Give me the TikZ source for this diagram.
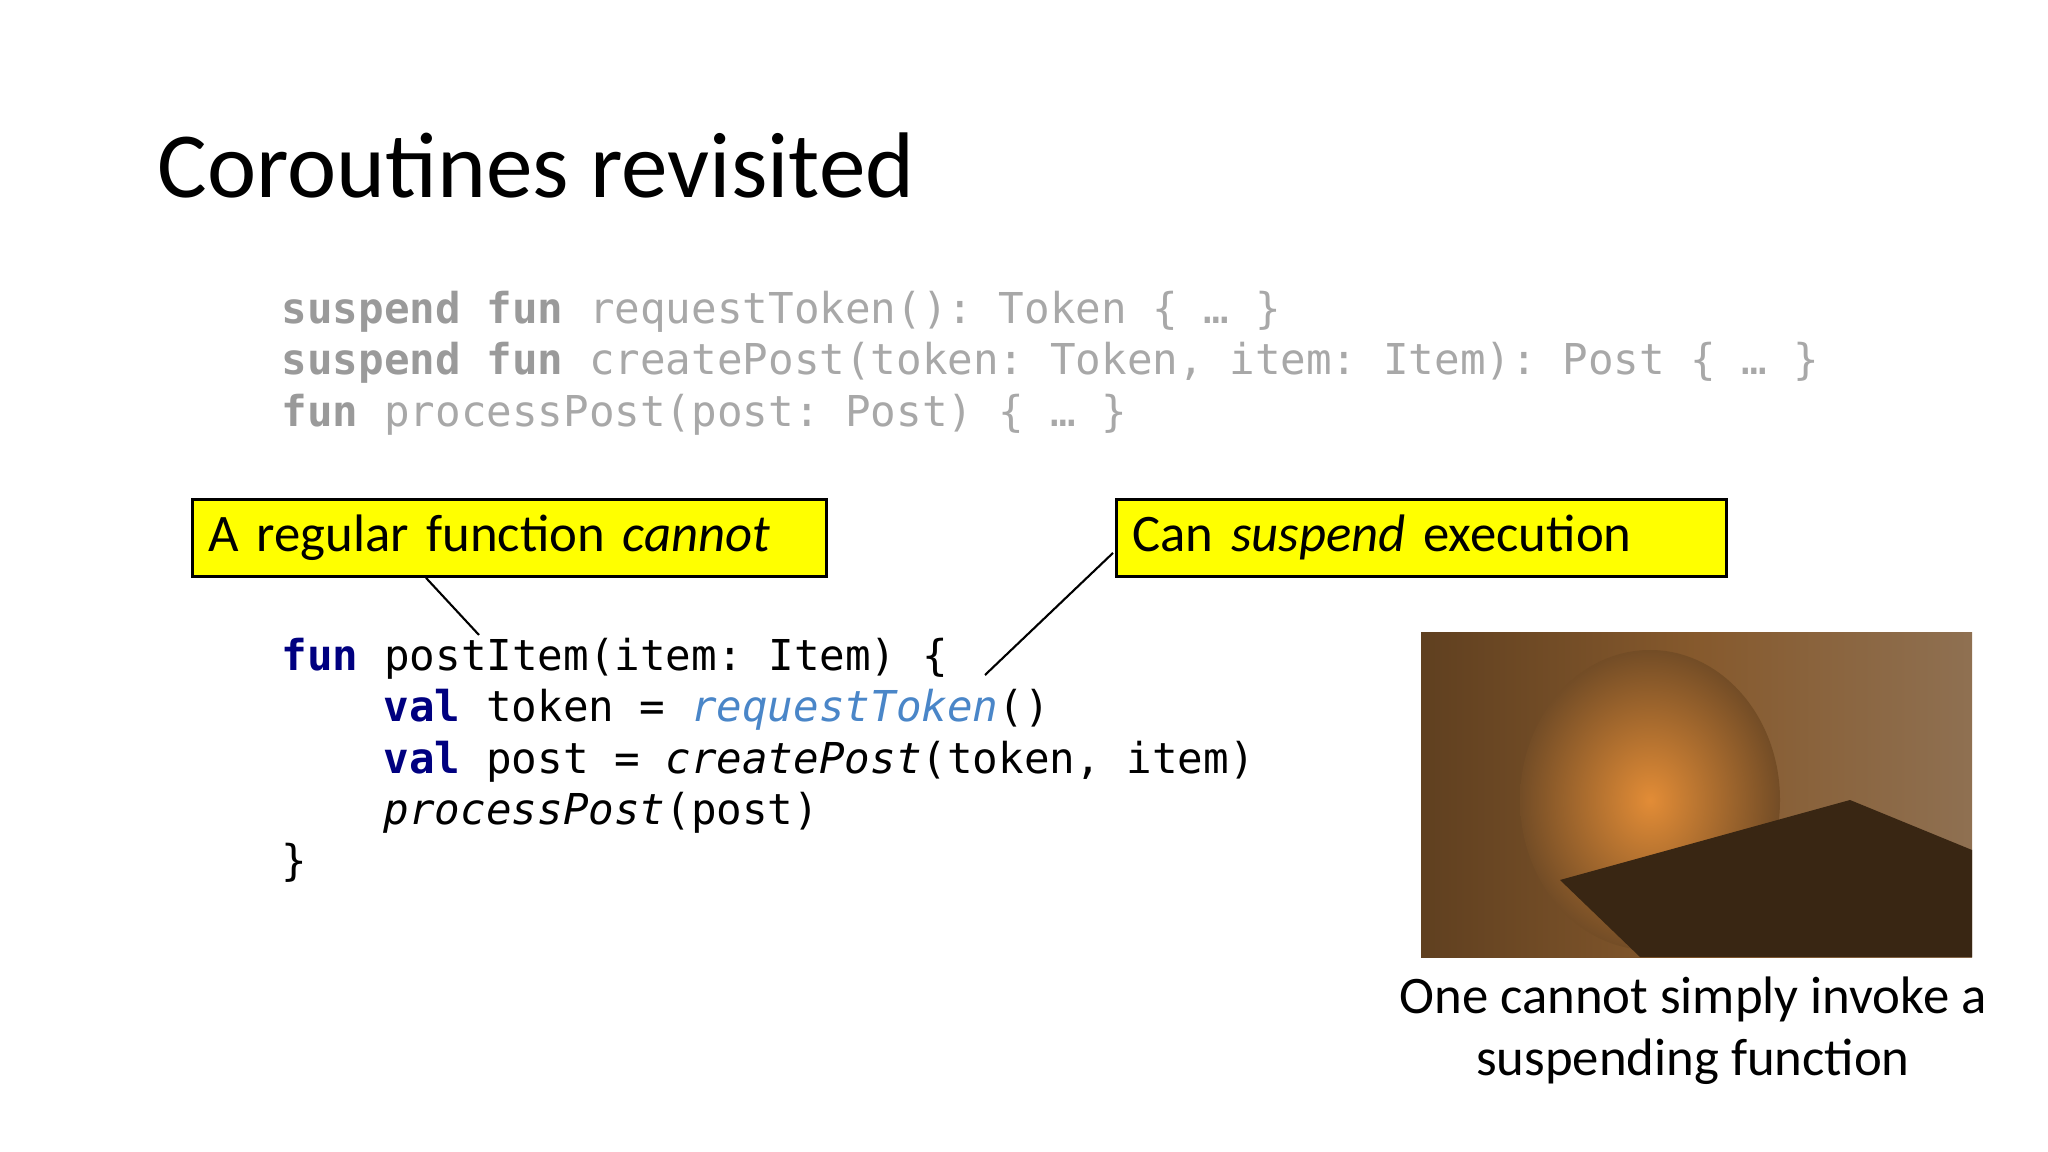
\documentclass[tikz,border=0pt]{standalone}
\usepackage{fontspec}
\setmainfont{Carlito}
\setmonofont{DejaVu Sans Mono}
\definecolor{kw}{HTML}{000080}
\definecolor{fn}{HTML}{4A86C8}
\definecolor{gr}{HTML}{A8A8A8}
\definecolor{gk}{HTML}{9A9A9A}
\definecolor{ylw}{HTML}{FFFF00}
\begin{document}
\begin{tikzpicture}[x=0.01cm,y=-0.01cm,
  code/.style={anchor=base west,inner sep=0pt,font=\fontsize{12.1}{14}\selectfont\ttfamily},
  note/.style={draw=black,fill=ylw,line width=0.8pt,minimum width=#1,minimum height=0.77cm,anchor=north west,inner sep=0pt,font=\fontsize{15}{18}\selectfont,text width=#1-0.32cm, align=left},
  conn/.style={draw=black,line width=0.6pt}]
\useasboundingbox (0,0) rectangle (2048,1152);
\node[anchor=base west,inner sep=0pt,font=\fontsize{26.5}{32}\selectfont] (title) at (157,198) {Coroutines revisited};
\node[code,text=gr] (g1) at (281,324) {\textcolor{gk}{\bfseries suspend fun} requestToken(): Token \{ … \}};
\node[code,text=gr] (g2) at (281,375) {\textcolor{gk}{\bfseries suspend fun} createPost(token: Token, item: Item): Post \{ … \}};
\node[code,text=gr] (g3) at (281,427) {\textcolor{gk}{\bfseries fun} processPost(post: Post) \{ … \}};
\node[code] (c1) at (281,670) {\textcolor{kw}{\bfseries fun} postItem(item: Item) \{};
\node[code] (c2) at (383,721) {\textcolor{kw}{\bfseries val} token = \textcolor{fn}{\itshape requestToken}()};
\node[code] (c3) at (383,773) {\textcolor{kw}{\bfseries val} post = {\itshape createPost}(token, item)};
\node[code] (c4) at (383,824) {{\itshape processPost}(post)};
\node[code] (c5) at (281,875) {\}};
\node[note=6.34cm] (b1) at (191,498) {A regular function \textit{cannot}};
\node[note=6.10cm] (b2) at (1115,498) {Can \textit{suspend} execution};
\coordinate (e1) at (479,635);
\coordinate (e2) at (985,675);
\draw[conn] (b1.south west)++(235,0) coordinate (s1) -- (e1);
\draw[conn] (b2.west)++(-2,15) coordinate (s2) -- (e2);
\begin{scope}
\clip (1421,632) rectangle (1972,957);
\shade[left color=brown!50!black, right color=brown!60!black!80, middle color=brown!70!black] (1421,632) rectangle (1972,957);
\shade[inner color=orange!50!brown!90, outer color=brown!60!black] (1650,800) ellipse (130 and 150);
\fill[black!70!brown] (1560,880) -- (1640,957) -- (1972,957) -- (1972,850) -- (1850,800) -- cycle;
\end{scope}
\node[align=center,inner sep=0pt,font=\fontsize{15}{17.6}\selectfont,anchor=north] (cap) at (1693,976) {One cannot simply invoke a\\suspending function};
\end{tikzpicture}
\end{document}
